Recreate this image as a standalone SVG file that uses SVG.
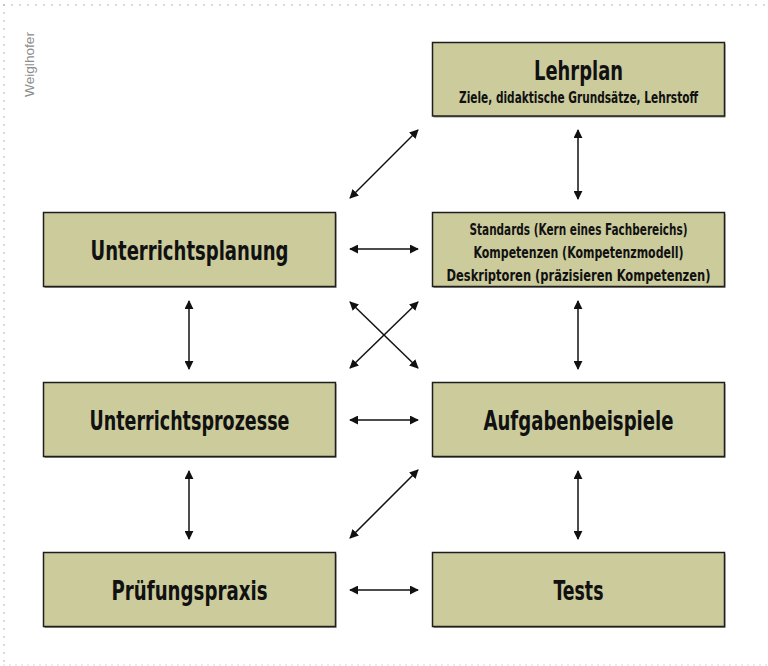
<svg xmlns="http://www.w3.org/2000/svg" width="768" height="666" viewBox="0 0 768 666">
<style>
.box{fill:#cbcb9c;stroke:#1e1e1e;stroke-width:1.5}
.sh{fill:#8a8a80}
.t{font-family:"Liberation Sans Narrow","DejaVu Sans Condensed","Liberation Sans",sans-serif;font-weight:bold;fill:#111;text-anchor:middle}
.big{font-size:26px}
.small{font-size:15px}
.c line{stroke:#111;stroke-width:1.5;marker-start:url(#ah);marker-end:url(#ah)}
.dot{fill:none;stroke-linecap:round;stroke-width:1.6}
</style>
<defs>
<marker id="ah" viewBox="0 0 10 10" refX="9" refY="5" markerWidth="6" markerHeight="6" orient="auto-start-reverse">
<path d="M0,0 L10,5 L0,10 z" fill="#111"/>
</marker>
</defs>
<rect width="768" height="666" fill="#fff"/>
<g id="frame">
<line class="dot" x1="4" y1="5" x2="768" y2="5" stroke="#a8a8a8" stroke-dasharray="0 8"/>
<line class="dot" x1="4" y1="5" x2="4" y2="665" stroke="#a8a8a8" stroke-dasharray="0 8"/>
<line class="dot" x1="4" y1="665" x2="768" y2="665" stroke="#d0d0d0" stroke-dasharray="0 6"/>
</g>
<text x="0" y="0" transform="translate(34,97) rotate(-90)" font-family="Liberation Sans,sans-serif" font-size="13" fill="#8c8c8c" textLength="65" lengthAdjust="spacingAndGlyphs">Weiglhofer</text>
<g id="lehrplan">
<rect class="sh" x="433.5" y="44" width="292" height="73.5"/>
<rect class="box" x="432.5" y="42.5" width="292" height="73.5"/>
<text class="t big" x="578.5" y="80" textLength="89" lengthAdjust="spacingAndGlyphs">Lehrplan</text>
<text class="t small" x="578.5" y="103" textLength="239" lengthAdjust="spacingAndGlyphs">Ziele, didaktische Grundsätze, Lehrstoff</text>
</g>
<g id="standards">
<rect class="sh" x="433.5" y="214" width="292" height="74"/>
<rect class="box" x="432.5" y="212.5" width="292" height="74"/>
<text class="t small" x="578.5" y="235" textLength="218" lengthAdjust="spacingAndGlyphs">Standards (Kern eines Fachbereichs)</text>
<text class="t small" x="578.5" y="258" textLength="210" lengthAdjust="spacingAndGlyphs">Kompetenzen (Kompetenzmodell)</text>
<text class="t small" x="578.5" y="281" textLength="264" lengthAdjust="spacingAndGlyphs">Deskriptoren (präzisieren Kompetenzen)</text>
</g>
<g id="unterrichtsplanung">
<rect class="sh" x="44.5" y="214" width="292" height="74"/>
<rect class="box" x="43.5" y="212.5" width="292" height="74"/>
<text class="t big" x="189.5" y="260" textLength="198" lengthAdjust="spacingAndGlyphs">Unterrichtsplanung</text>
</g>
<g id="unterrichtsprozesse">
<rect class="sh" x="44.5" y="384" width="292" height="74"/>
<rect class="box" x="43.5" y="382.5" width="292" height="74"/>
<text class="t big" x="189.5" y="430" textLength="200" lengthAdjust="spacingAndGlyphs">Unterrichtsprozesse</text>
</g>
<g id="aufgabenbeispiele">
<rect class="sh" x="433.5" y="384" width="292" height="74"/>
<rect class="box" x="432.5" y="382.5" width="292" height="74"/>
<text class="t big" x="578.5" y="430" textLength="190" lengthAdjust="spacingAndGlyphs">Aufgabenbeispiele</text>
</g>
<g id="pruefungspraxis">
<rect class="sh" x="44.5" y="554" width="292" height="74"/>
<rect class="box" x="43.5" y="552.5" width="292" height="74"/>
<text class="t big" x="189.5" y="600" textLength="156" lengthAdjust="spacingAndGlyphs">Prüfungspraxis</text>
</g>
<g id="tests">
<rect class="sh" x="433.5" y="554" width="292" height="74"/>
<rect class="box" x="432.5" y="552.5" width="292" height="74"/>
<text class="t big" x="578.5" y="600" textLength="50" lengthAdjust="spacingAndGlyphs">Tests</text>
</g>
<g id="connectors" class="c">
<line x1="350" y1="198" x2="418" y2="130"/>
<line x1="578" y1="130" x2="578" y2="199"/>
<line x1="350" y1="249" x2="418" y2="249"/>
<line x1="189" y1="301" x2="189" y2="369"/>
<line x1="578" y1="301" x2="578" y2="369"/>
<line x1="350" y1="302" x2="418" y2="368"/>
<line x1="418" y1="302" x2="350" y2="368"/>
<line x1="350" y1="420" x2="418" y2="420"/>
<line x1="189" y1="471" x2="189" y2="539"/>
<line x1="578" y1="471" x2="578" y2="539"/>
<line x1="418" y1="470" x2="350" y2="538"/>
<line x1="350" y1="590" x2="418" y2="590"/>
</g>
</svg>
